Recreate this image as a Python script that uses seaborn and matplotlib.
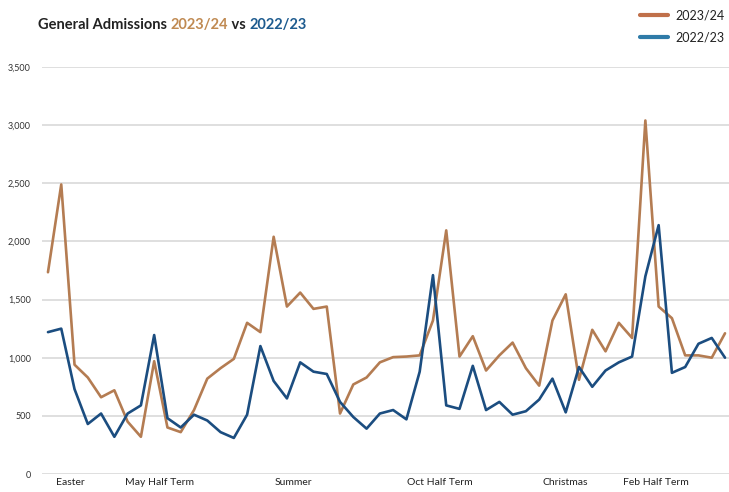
import matplotlib
matplotlib.use("Agg")
import matplotlib.pyplot as plt
import pandas as pd
import seaborn as sns

# weekly admissions, April to March
admissions_2324 = [1735, 2490, 940, 830, 660, 720, 450, 320, 970, 400,
                   360, 550, 820, 910, 990, 1300, 1220, 2040, 1440, 1560,
                   1420, 1440, 520, 770, 830, 960, 1005, 1010, 1020, 1320,
                   2095, 1010, 1185, 890, 1020, 1130, 910, 760, 1320, 1545,
                   810, 1240, 1055, 1300, 1170, 3040, 1440, 1340, 1020, 1020,
                   1000, 1210]
admissions_2223 = [1220, 1250, 730, 430, 520, 320, 520, 590, 1195, 480,
                   400, 510, 460, 360, 310, 510, 1100, 800, 650, 960,
                   880, 860, 620, 490, 390, 520, 550, 470, 880, 1710,
                   590, 560, 930, 550, 620, 510, 540, 640, 820, 530,
                   920, 750, 890, 960, 1010, 1700, 2140, 870, 920, 1120,
                   1170, 1000]
weeks = list(range(len(admissions_2324)))

holiday_labels = ["Easter", "May Half Term", "Summer", "Oct Half Term", "Christmas", "Feb Half Term"]
holiday_weeks = [1.7, 8.4, 18.5, 29.5, 39.0, 45.8]

ORANGE = "#b47c52"
BLUE = "#1b4d80"

df = pd.DataFrame({
    "week": weeks * 2,
    "admissions": admissions_2324 + admissions_2223,
    "season": ["2023/24"] * len(weeks) + ["2022/23"] * len(weeks),
})

sns.set_style("white")
plt.rcParams["font.family"] = ["Lato", "DejaVu Sans"]

fig = plt.figure(figsize=(7.29, 4.92), dpi=100)
ax = fig.add_axes([42 / 729, 1 - 474 / 492, 687 / 729, (474 - 67) / 492])

sns.lineplot(data=df, x="week", y="admissions", hue="season",
             palette={"2023/24": ORANGE, "2022/23": BLUE},
             linewidth=1.9, ax=ax, legend=False)

ax.set_xlim(-0.45, 51.3)
ax.set_ylim(0, 3500)
ax.set_yticks(range(0, 3501, 500))
ax.set_yticklabels([f"{v:,}" for v in range(0, 3501, 500)], fontsize=6.5, color="#333333")
ax.set_xticks(holiday_weeks)
ax.set_xticklabels(holiday_labels, fontsize=7.5, color="#222222")
ax.tick_params(axis="both", length=0)
ax.tick_params(axis="x", pad=3)
ax.tick_params(axis="y", pad=8)
ax.yaxis.grid(True, color="#d9d9d9", linewidth=1.2)
ax.xaxis.grid(False)
ax.set_xlabel("")
ax.set_ylabel("")
for s in ax.spines.values():
    s.set_visible(False)

# multicoloured title
renderer = fig.canvas.get_renderer()
x = 38 / 729
for piece, col in [("General Admissions ", "#222222"), ("2023/24", "#c08a52"),
                   (" vs ", "#222222"), ("2022/23", "#1d5b8f")]:
    t = fig.text(x, 1 - 25 / 492, piece, color=col, fontsize=10.5, fontweight="bold",
                 va="center", ha="left")
    bb = t.get_window_extent(renderer)
    x += bb.width / fig.bbox.width

# legend
for label, col, y in [("2023/24", "#c0704a", 15), ("2022/23", "#2f7ba8", 37)]:
    fig.add_artist(plt.Line2D([640 / 729, 668 / 729], [1 - y / 492] * 2, color=col, linewidth=3))
    fig.text(675 / 729, 1 - y / 492, label, fontsize=9, color="#222222", va="center", ha="left")

fig.savefig("out.png", dpi=100)
